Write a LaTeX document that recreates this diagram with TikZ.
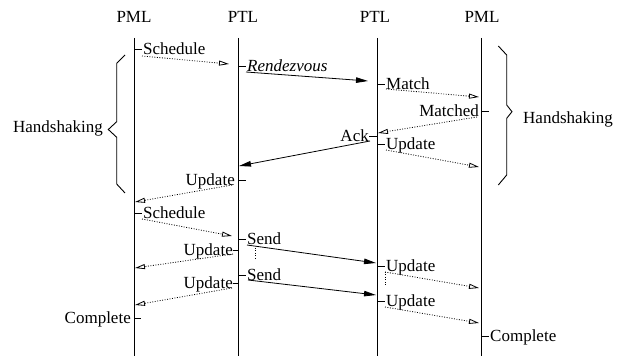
\documentclass[tikz,border=0pt]{standalone}
\usepackage{fontspec}
\setmainfont{Liberation Serif}
\usetikzlibrary{arrows.meta}

\begin{document}
\begin{tikzpicture}[x=1pt,y=-1pt,
  every node/.style={font=\fontsize{17}{19}\selectfont, inner sep=0pt},
  lifeline/.style={line width=0.9pt},
  tickmark/.style={line width=0.9pt},
  lblR/.style={anchor=base west},
  lblL/.style={anchor=base east},
  dots/.style={dash pattern=on 0.9pt off 1.6pt, line width=0.8pt},
  async/.style={dots, -{Triangle[open,length=10pt,width=5pt]}},
  sync/.style={line width=0.8pt, -{Triangle[length=12pt,width=5.5pt]}},
  guide/.style={dots},
  brace/.style={line width=0.9pt},
]
\useasboundingbox (0,0) rectangle (619,358);

% participants
\node[anchor=base] (p1) at (134,23) {PML};
\node[anchor=base] (p2) at (243,23) {PTL};
\node[anchor=base] (p3) at (375,23) {PTL};
\node[anchor=base] (p4) at (482,23) {PML};

% lifelines
\coordinate (l1t) at (134,38); \coordinate (l1b) at (134,356);
\coordinate (l2t) at (238,38); \coordinate (l2b) at (238,356);
\coordinate (l3t) at (377,38); \coordinate (l3b) at (377,356);
\coordinate (l4t) at (481,38); \coordinate (l4b) at (481,356);
\foreach \i in {1,...,4} \draw[lifeline] (l\i t) -- (l\i b);

% Schedule (PML -> PTL)
\coordinate (ta1) at (134,49); \coordinate (tb1) at (142,49);
\draw[tickmark] (ta1) -- (tb1);
\node[lblR] (m1) at (143,55) {Schedule};
\coordinate (s1) at (142,56); \coordinate (e1) at (229,64);
\draw[async] (s1) -- (e1);

% Rendezvous (PTL -> PTL)
\coordinate (ta2) at (238,66); \coordinate (tb2) at (246,66);
\draw[tickmark] (ta2) -- (tb2);
\node[lblR] (m2) at (247,71.5) {\itshape Rendezvous};
\coordinate (s2) at (246,72); \coordinate (e2) at (368,81);
\draw[sync] (s2) -- (e2);

% Match (PTL -> PML)
\coordinate (ta3) at (377,84); \coordinate (tb3) at (385,84);
\draw[tickmark] (ta3) -- (tb3);
\node[lblR] (m3) at (386,89.5) {Match};
\coordinate (s3) at (386,89); \coordinate (e3) at (479,97);
\draw[async] (s3) -- (e3);

% Matched (PML -> PTL)
\coordinate (ta4) at (481,111); \coordinate (tb4) at (489,111);
\draw[tickmark] (ta4) -- (tb4);
\node[lblL] (m4) at (479,116.5) {Matched};
\coordinate (s4) at (477,117); \coordinate (e4) at (378,133);
\draw[async] (s4) -- (e4);

% Ack (PTL -> PTL)
\coordinate (ta5) at (369,136); \coordinate (tb5) at (377,136);
\draw[tickmark] (ta5) -- (tb5);
\node[lblL] (m5) at (369,141.5) {Ack};
\coordinate (s5) at (370,141); \coordinate (e5) at (239,166);
\draw[sync] (s5) -- (e5);

% Update (PTL -> PML)
\coordinate (ta6) at (377,144); \coordinate (tb6) at (385,144);
\draw[tickmark] (ta6) -- (tb6);
\node[lblR] (m6) at (386,149.5) {Update};
\coordinate (s6) at (386,150); \coordinate (e6) at (479,167);
\draw[async] (s6) -- (e6);

% Update (PTL -> PML)
\coordinate (ta7) at (238,180); \coordinate (tb7) at (246,180);
\draw[tickmark] (ta7) -- (tb7);
\node[lblL] (m7) at (235,185.5) {Update};
\coordinate (s7) at (232,185); \coordinate (e7) at (135,202);
\draw[async] (s7) -- (e7);

% Schedule (PML -> PTL)
\coordinate (ta8) at (134,213); \coordinate (tb8) at (142,213);
\draw[tickmark] (ta8) -- (tb8);
\node[lblR] (m8) at (143,218.5) {Schedule};
\coordinate (s8) at (142,219); \coordinate (e8) at (232,236);
\draw[async] (s8) -- (e8);

% Send (PTL -> PTL)
\coordinate (ta9) at (238,239); \coordinate (tb9) at (246,239);
\draw[tickmark] (ta9) -- (tb9);
\node[lblR] (m9) at (247,244.5) {Send};
\coordinate (s9) at (247,245); \coordinate (e9) at (376,263);
\draw[sync] (s9) -- (e9);
\coordinate (g9a) at (255,248); \coordinate (g9b) at (255,259);
\draw[guide] (g9a) -- (g9b);

% Update (PTL -> PML)
\coordinate (ta10) at (233,250); \coordinate (tb10) at (238,250);
\draw[tickmark] (ta10) -- (tb10);
\node[lblL] (m10) at (233,255.5) {Update};
\coordinate (s10) at (233,254); \coordinate (e10) at (135,268);
\draw[async] (s10) -- (e10);

% Send (PTL -> PTL)
\coordinate (ta11) at (238,275); \coordinate (tb11) at (246,275);
\draw[tickmark] (ta11) -- (tb11);
\node[lblR] (m11) at (247,280.5) {Send};
\coordinate (s11) at (248,280); \coordinate (e11) at (376,295);
\draw[sync] (s11) -- (e11);

% Update (PTL -> PML)
\coordinate (ta12) at (233,283); \coordinate (tb12) at (238,283);
\draw[tickmark] (ta12) -- (tb12);
\node[lblL] (m12) at (233,288.5) {Update};
\coordinate (s12) at (232,288); \coordinate (e12) at (135,305);
\draw[async] (s12) -- (e12);

% Update (PTL -> PML)
\coordinate (ta13) at (377,266); \coordinate (tb13) at (385,266);
\draw[tickmark] (ta13) -- (tb13);
\node[lblR] (m13) at (386,271.5) {Update};
\coordinate (s13) at (385,272); \coordinate (e13) at (479,288);
\draw[async] (s13) -- (e13);
\coordinate (g13) at (385,285);
\draw[guide] (s13) -- (g13);

% Update (PTL -> PML)
\coordinate (ta14) at (377,301); \coordinate (tb14) at (385,301);
\draw[tickmark] (ta14) -- (tb14);
\node[lblR] (m14) at (386,306.5) {Update};
\coordinate (s14) at (385,307); \coordinate (e14) at (479,323);
\draw[async] (s14) -- (e14);

% Complete marks
\coordinate (ta15) at (134,318); \coordinate (tb15) at (141,318);
\draw[tickmark] (ta15) -- (tb15);
\node[lblL] (m15) at (131,323.5) {Complete};
\coordinate (ta16) at (481,336); \coordinate (tb16) at (489,336);
\draw[tickmark] (ta16) -- (tb16);
\node[lblR] (m16) at (490,341.5) {Complete};

% handshaking braces
\draw[brace] (125,55) -- (116.7,63.3) -- (116.7,121.7) -- (108.3,129.5)
  -- (116.7,137.3) -- (116.7,184) -- (125,193);
\node[anchor=east] (hsL) at (103,128) {Handshaking};
\draw[brace] (498.3,46) -- (506.7,55) -- (506.7,105) -- (512,111.7)
  -- (506.7,118.3) -- (506.7,175) -- (498.3,185);
\node[anchor=west] (hsR) at (523,119) {Handshaking};
\end{tikzpicture}
\end{document}
